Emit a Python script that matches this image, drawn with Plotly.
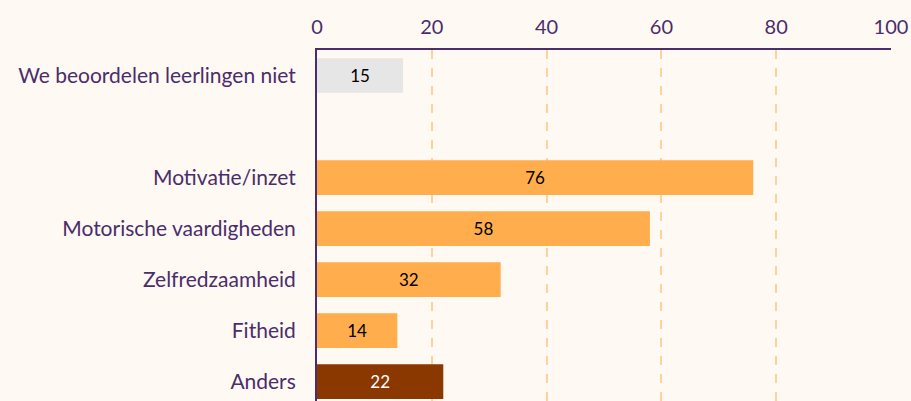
import plotly.graph_objects as go

categories = ["We beoordelen leerlingen niet", " ", "Motivatie/inzet", "Motorische vaardigheden",
              "Zelfredzaamheid", "Fitheid", "Anders"]
values = [15, None, 76, 58, 32, 14, 22]
bar_colors = ["#e6e6e6", "#ffad4d", "#ffad4d", "#ffad4d", "#ffad4d", "#ffad4d", "#8a3700"]
text_colors = ["#000000", "#000000", "#000000", "#000000", "#000000", "#000000", "#ffffff"]
x_ticks = [0, 20, 40, 60, 80, 100]

purple = "#4a2d6a"
bg = "#fff9f3"

fig = go.Figure(go.Bar(
    x=values, y=categories, orientation="h",
    marker=dict(color=bar_colors, line=dict(width=0)),
    width=0.68,
    text=[("" if v is None else str(v)) for v in values],
    textposition="inside", insidetextanchor="middle",
    textfont=dict(family="Lato", size=17, color=text_colors),
    hoverinfo="skip",
))

fig.update_layout(
    width=911, height=401,
    margin=dict(l=317, r=20, t=50, b=0),
    paper_bgcolor=bg, plot_bgcolor=bg,
    font=dict(family="Lato", color=purple, size=20),
    showlegend=False,
    xaxis=dict(side="top", range=[0, 100], tickvals=x_ticks, ticks="",
               showgrid=True, gridcolor="#ffd29c", griddash="dash", gridwidth=1.5,
               showline=True, linecolor=purple, linewidth=2, zeroline=False,
               tickfont=dict(size=20, color=purple), ticklabelstandoff=6),
    yaxis=dict(categoryorder="array", categoryarray=categories,
               range=[6.38, -0.5], showline=True, linecolor=purple, linewidth=2,
               ticks="", showgrid=False, ticklabelstandoff=15,
               tickfont=dict(size=21, color=purple)),
)

fig.write_html("out.html", config={"displayModeBar": False},
               post_script="document.body.style.margin='0';document.body.style.overflow='hidden';")
